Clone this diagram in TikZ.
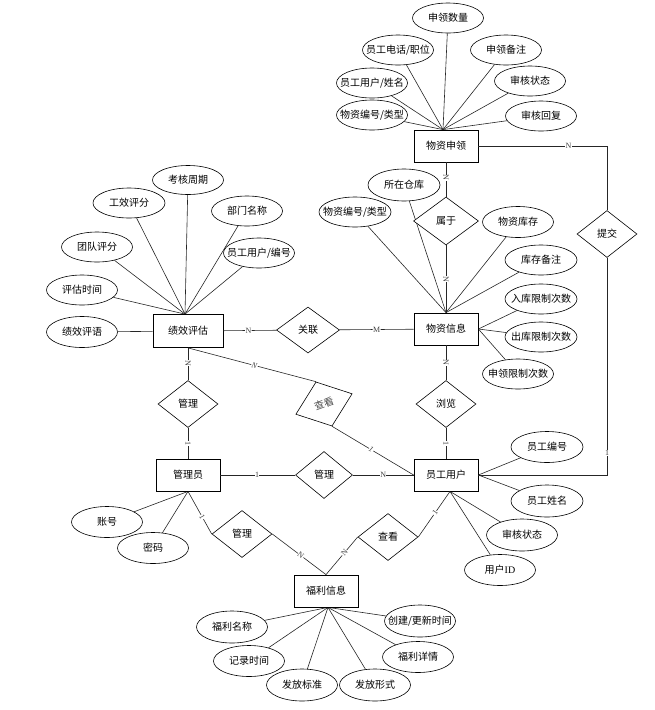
\documentclass[tikz,border=0pt]{standalone}
\usepackage{fontspec}
\setmainfont{Liberation Serif}
\newfontfamily\cjk{Noto Sans CJK SC}
\usetikzlibrary{shapes.geometric,backgrounds}
\newcommand\at[1]{\makebox[0pt]{#1}}
\begin{document}
\begin{tikzpicture}[x=1pt,y=-1pt,
  txt/.style={font=\cjk\fontsize{10}{11}\selectfont},
  ent/.style={txt, draw, line width=0.8pt, minimum width=64pt, minimum height=32pt, inner sep=0pt, fill=white},
  rel/.style={txt, draw, diamond, line width=0.6pt, minimum width=60pt, minimum height=47pt, inner sep=0pt, fill=white},
  attr/.style={txt, draw, ellipse, line width=0.6pt, minimum width=71pt, minimum height=30pt, inner sep=0pt, fill=white},
  conn/.style={line width=0.6pt, draw=black!85},
  card/.style={font=\fontsize{8}{8}\selectfont, fill=white, inner sep=0.4pt, text=black!75},
  cards/.style={card, sloped}]
\useasboundingbox (0,0) rectangle (655,710);

% entities
\node[ent] (wz) at (446,146) {物资申领};
\node[ent] (wx) at (446,329) {物资信息};
\node[ent, minimum width=70pt, minimum height=33pt] (jx) at (188,331) {绩效评估};
\node[ent] (gl) at (188,475) {管理员};
\node[ent] (yg) at (446,475) {员工用户};
\node[ent] (fl) at (326,591) {福利信息};

% relationships
\node[rel, minimum width=65pt, minimum height=48pt] (sy) at (446,221) {属于};
\node[rel, minimum width=63pt, minimum height=46pt] (gla) at (308,330) {关联};
\node[rel] (ll) at (446,404) {浏览};
\node[rel] (gl1) at (188,404) {管理};
\node[rel, rotate=20, text=black!70] (ck1) at (324,404) {查看};
\node[rel, minimum width=57pt] (gl2) at (324,475) {管理};
\node[rel] (gl3) at (242,534) {管理};
\node[rel] (ck2) at (388,537) {查看};
\node[rel] (tj) at (607,234) {提交};

% attributes of 物资申领
\node[attr] (a1) at (448,18) {\at{申领数量}};
\node[attr] (a2) at (398,50) {\at{员工电话/职位}};
\node[attr] (a3) at (506,50) {\at{申领备注}};
\node[attr] (a4) at (372,83) {\at{员工用户/姓名}};
\node[attr] (a5) at (530,81) {\at{审核状态}};
\node[attr] (a6) at (372,115) {\at{物资编号/类型}};
\node[attr] (a7) at (541,116) {\at{审核回复}};

% attributes of 物资信息
\node[attr, minimum width=72pt, minimum height=32pt] (b1) at (404,185) {\at{所在仓库}};
\node[attr, minimum width=72pt] (b2) at (355,212) {\at{物资编号/类型}};
\node[attr, minimum height=31pt] (b3) at (518,222) {\at{物资库存}};
\node[attr, minimum width=72pt] (b4) at (541,260) {\at{库存备注}};
\node[attr, minimum width=72pt] (b5) at (541,299) {\at{入库限制次数}};
\node[attr, minimum width=72pt] (b6) at (541,337) {\at{出库限制次数}};
\node[attr] (b7) at (518,374) {\at{申领限制次数}};

% attributes of 绩效评估
\node[attr, minimum height=29pt] (c1) at (188,180) {\at{考核周期}};
\node[attr, minimum width=72pt] (c2) at (129,203) {\at{工效评分}};
\node[attr] (c3) at (247,211) {\at{部门名称}};
\node[attr] (c4) at (97,247) {\at{团队评分}};
\node[attr] (c5) at (259,253) {\at{员工用户/编号}};
\node[attr] (c6) at (82,290) {\at{评估时间}};
\node[attr, minimum height=31pt] (c7) at (82,332) {\at{绩效评语}};

% attributes of 员工用户
\node[attr, minimum width=72pt, minimum height=31pt] (d1) at (547,447) {\at{员工编号}};
\node[attr, minimum width=72pt, minimum height=32pt] (d2) at (547,501) {\at{员工姓名}};
\node[attr, minimum height=32pt] (d3) at (522,535) {\at{审核状态}};
\node[attr, minimum height=31pt] (d4) at (500,570) {\at{用户{\normalfont ID}}};

% attributes of 管理员
\node[attr, minimum height=31pt] (e1) at (107,522) {\at{账号}};
\node[attr, minimum height=31pt] (e2) at (153,548) {\at{密码}};

% attributes of 福利信息
\node[attr, minimum height=32pt] (f1) at (232,627) {\at{福利名称}};
\node[attr, minimum height=31pt] (f2) at (249,661) {\at{记录时间}};
\node[attr, minimum height=32pt] (f3) at (302,685) {\at{发放标准}};
\node[attr, minimum height=32pt] (f4) at (375,685) {\at{发放形式}};
\node[attr, minimum height=31pt] (f5) at (418,657) {\at{福利详情}};
\node[attr, minimum height=32pt] (f6) at (420,621) {\at{创建/更新时间}};

\begin{pgfonlayer}{background}
  % attribute lines
  \coordinate (wzt) at ([xshift=-3pt]wz.north);
  \foreach \a in {a1,a2,a3,a4,a5,a6,a7} \draw[conn] (wzt) -- (\a);
  \coordinate (wxt) at (wx.north);
  \foreach \a in {b1,b2,b3,b4} \draw[conn] (wxt) -- (\a);
  \foreach \a in {b5,b6,b7} \draw[conn] (wx.east) -- (\a);
  \coordinate (jxt) at ([xshift=-3pt]jx.north);
  \foreach \a in {c1,c2,c3,c4,c5,c6} \draw[conn] (jxt) -- (\a);
  \draw[conn] (jx) -- (c7);
  \coordinate (ygb) at ([xshift=4pt]yg.south);
  \draw[conn] (yg.east) -- (d1);
  \draw[conn] (yg.east) -- (d2);
  \draw[conn] (ygb) -- (d3);
  \draw[conn] (ygb) -- (d4);
  \coordinate (glb) at (gl.south);
  \draw[conn] (glb) -- (e1);
  \draw[conn] (glb) -- (e2);
  \coordinate (flb) at ([xshift=2pt]fl.south);
  \foreach \a in {f1,f2,f3,f4,f5,f6} \draw[conn] (flb) -- (\a);
\end{pgfonlayer}

% relationship connectors
\draw[conn] (wz) -- node[cards, pos=0.45] {N} (sy);
\draw[conn] (sy) -- node[cards, pos=0.5] {N} (wx);
\draw[conn] (jx) -- node[cards, pos=0.47] {N} (gla);
\draw[conn] (gla) -- node[cards, pos=0.5] {M} (wx);
\draw[conn] (wx) -- node[cards, pos=0.5] {N} (ll);
\draw[conn] (ll) -- node[cards, pos=0.5] {1} (yg);
\draw[conn] (jx) -- node[cards, pos=0.47] {N} (gl1);
\draw[conn] (gl1) -- node[cards, pos=0.5] {1} (gl);
\draw[conn] (jx.south) -- node[cards, pos=0.52] {\textit{N}} (ck1.north);
\draw[conn] (ck1.south) -- node[cards, pos=0.48] {\textit{1}} (yg.west);
\draw[conn] (gl) -- node[cards, pos=0.49] {1} (gl2);
\draw[conn] (gl2) -- node[cards, pos=0.5] {N} (yg);
\draw[conn] (gl.south) -- node[cards, pos=0.6] {1} (gl3.west);
\draw[conn] (gl3.east) -- node[cards, pos=0.53] {N} (fl.north);
\draw[conn] (ygb) -- node[cards, pos=0.47] {1} (ck2.east);
\draw[conn] (ck2.west) -- node[cards, pos=0.42] {N} (fl.north);
\draw[conn] (wz.east) -| node[card, pos=0.35] {N} (tj.north);
\draw[conn] (tj.south) |- node[card, pos=0.45] {1} (yg.east);
\end{tikzpicture}
\end{document}
